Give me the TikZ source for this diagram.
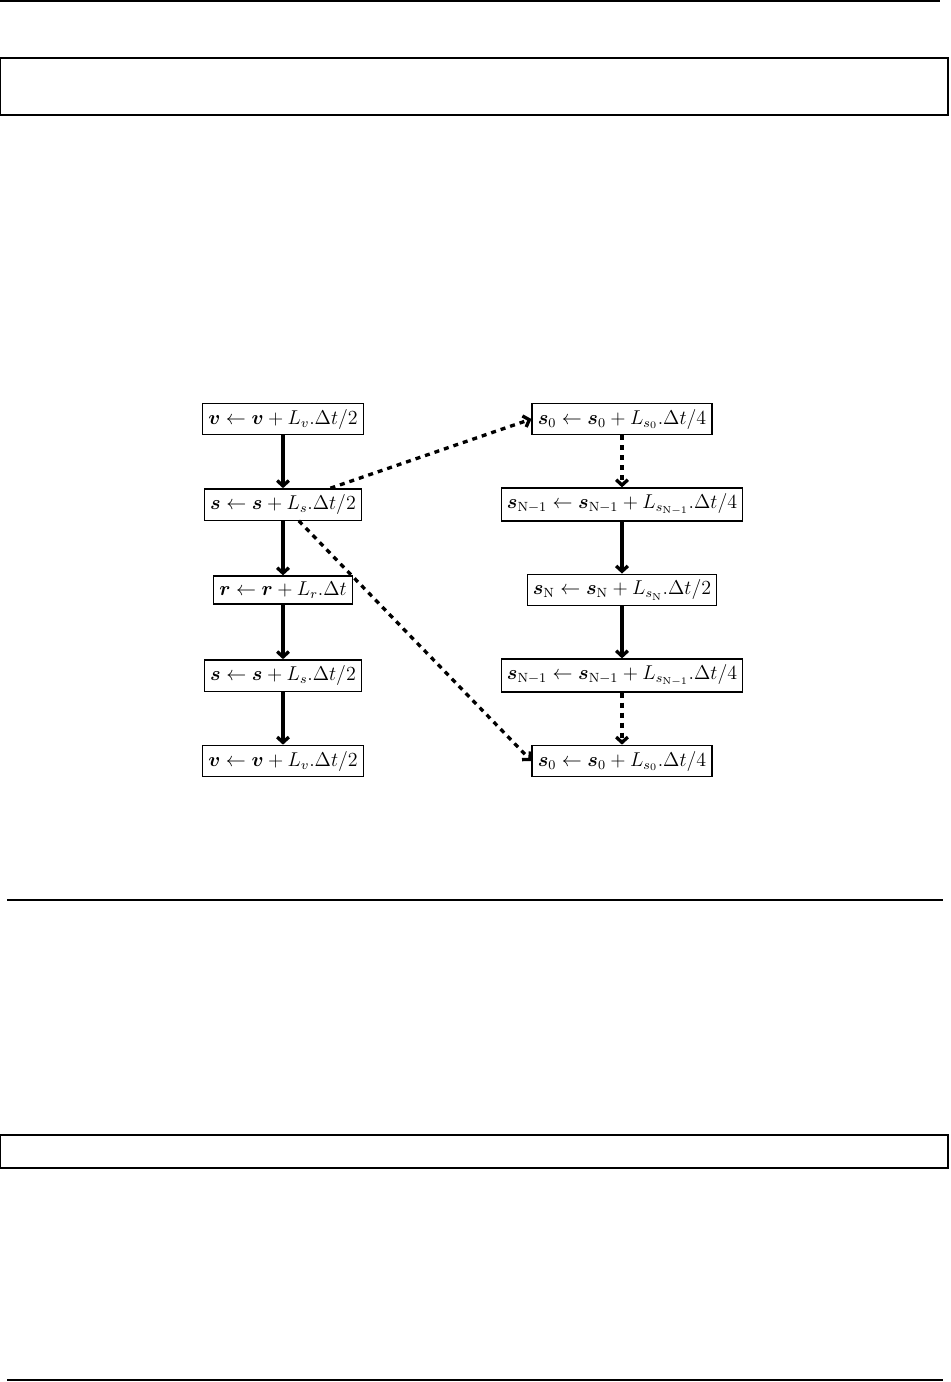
\documentclass[tikz,border=0pt]{standalone}
\usepackage{amsmath}
\usepackage{bm}
\usetikzlibrary{arrows.meta, positioning}

\begin{document}
\begin{tikzpicture}[
  x=0.6pt, y=-0.6pt,
  node distance=51.3pt and 203.4pt, on grid,
  upd/.style={draw, line width=0.8pt, inner sep=3.4pt, font=\large},
  flow/.style={-{Straight Barb[length=3.2pt, width=7pt]}, line width=2pt},
  jump/.style={flow, dashed},
  frame/.style={line width=0.9pt}
]
\useasboundingbox (0,0) rectangle (950,1382);

% page rules and empty frames
\draw[frame] (0,1) -- (940,1);
\draw[frame] (0.5,58) rectangle (948,115);
\draw[frame] (7,900) -- (943,900);
\draw[frame] (0.5,1135) rectangle (948,1168);
\draw[frame] (7,1380) -- (943,1380);

% outer splitting
\node[upd] (v1) at (283,419) {$\bm{v} \leftarrow \bm{v} + L_{v}.\Delta t/2$};
\node[upd, below=of v1] (s1) {$\bm{s} \leftarrow \bm{s} + L_{s}.\Delta t/2$};
\node[upd, below=of s1] (r) {$\bm{r} \leftarrow \bm{r} + L_{r}.\Delta t$};
\node[upd, below=of r] (s2) {$\bm{s} \leftarrow \bm{s} + L_{s}.\Delta t/2$};
\node[upd, below=of s2] (v2) {$\bm{v} \leftarrow \bm{v} + L_{v}.\Delta t/2$};

% inner splitting of s
\node[upd, right=of v1] (s0a) {$\bm{s}_0 \leftarrow \bm{s}_0 + L_{s_0}.\Delta t/4$};
\node[upd, below=of s0a] (sNa) {$\bm{s}_{\mathrm{N}-1} \leftarrow \bm{s}_{\mathrm{N}-1} + L_{s_{\mathrm{N}-1}}.\Delta t/4$};
\node[upd, below=of sNa] (sN) {$\bm{s}_{\mathrm{N}} \leftarrow \bm{s}_{\mathrm{N}} + L_{s_{\mathrm{N}}}.\Delta t/2$};
\node[upd, below=of sN] (sNb) {$\bm{s}_{\mathrm{N}-1} \leftarrow \bm{s}_{\mathrm{N}-1} + L_{s_{\mathrm{N}-1}}.\Delta t/4$};
\node[upd, below=of sNb] (s0b) {$\bm{s}_0 \leftarrow \bm{s}_0 + L_{s_0}.\Delta t/4$};

\draw[flow] (v1) -- (s1);
\draw[flow] (s1) -- (r);
\draw[flow] (r) -- (s2);
\draw[flow] (s2) -- (v2);

\draw[jump] (s0a) -- (sNa);
\draw[flow] (sNa) -- (sN);
\draw[flow] (sN) -- (sNb);
\draw[jump] (sNb) -- (s0b);

\draw[jump] (s1) -- (s0a.west);
\draw[jump] (s1) -- (s0b.west);
\end{tikzpicture}
\end{document}
